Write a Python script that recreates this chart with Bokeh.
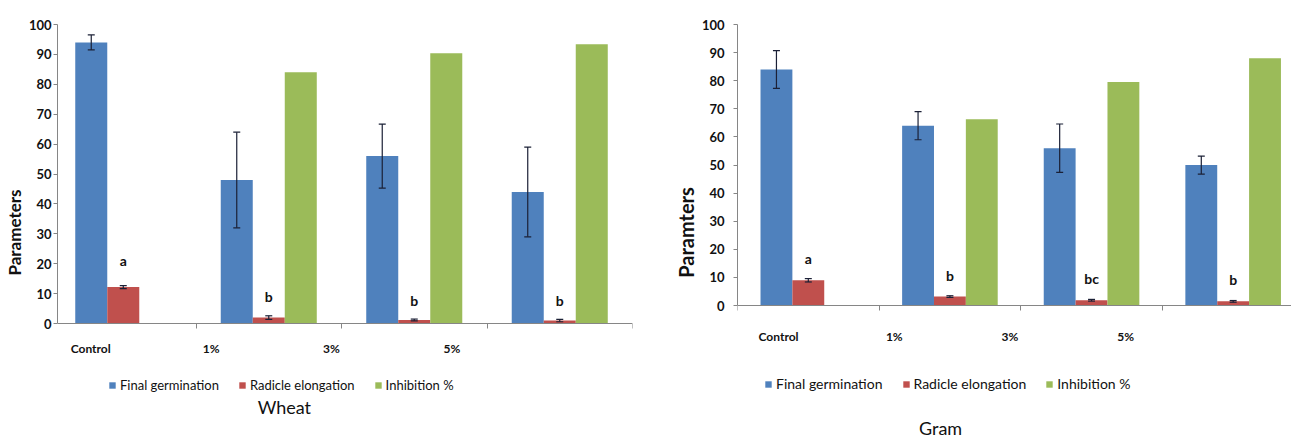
from bokeh.plotting import figure
from bokeh.models import (ColumnDataSource, Whisker, TeeHead, FixedTicker,
                          Range1d, Legend, LegendItem, Label, SingleIntervalTicker)
from bokeh.layouts import row
from bokeh.embed import file_html
from bokeh.resources import INLINE
from bokeh.core.properties import value

NAN = float("nan")

categories = ["Control", "1%", "3%", "5%"]
series_names = ["Final germination", "Radicle elongation", "Inhibition %"]
colors = ["#4F81BD", "#C0504D", "#9BBB59"]

# Wheat
wheat_final = [94.0, 48.0, 56.0, 44.0]
wheat_final_err = [2.5, 16.0, 10.7, 15.0]
wheat_radicle = [12.2, 2.0, 1.2, 1.0]
wheat_radicle_err = [0.5, 0.6, 0.3, 0.4]
wheat_inhibition = [NAN, 84.0, 90.4, 93.4]
wheat_letters = ["a", "b", "b", "b"]
wheat_letter_y = [21.0, 9.0, 7.7, 7.7]

# Gram
gram_final = [84.0, 64.0, 56.0, 50.0]
gram_final_err = [6.7, 5.0, 8.6, 3.2]
gram_radicle = [9.0, 3.2, 1.9, 1.5]
gram_radicle_err = [0.6, 0.3, 0.3, 0.3]
gram_inhibition = [NAN, 66.3, 79.5, 88.0]
gram_letters = ["a", "b", "bc", "b"]
gram_letter_y = [16.7, 10.7, 9.6, 9.2]

FONT = "Lato"
AXIS_GRAY = "#868686"
TXT = "#111111"


def make_chart(title, ylabel, final, final_err, radicle, radicle_err, inhib, letters, letter_y,
               width, bl, br, x_start, x_end, y_start, bar_w, lab_range, lab_y,
               ytick_size, ytick_standoff, ylabel_size, legend_loc, legend_size,
               title_x, title_y):
    p = figure(width=width, height=440, x_range=Range1d(x_start, x_end),
               y_range=Range1d(y_start, 100),
               output_backend="svg", toolbar_location=None, x_axis_location="above",
               min_border_left=bl, min_border_right=br, min_border_top=24,
               min_border_bottom=0)
    p.outline_line_color = None
    p.grid.visible = False

    idx = list(range(len(categories)))
    xs_f = [i + 0.5 - bar_w for i in idx]
    xs_r = [i + 0.5 for i in idx]
    xs_i = [i + 0.5 + bar_w for i in idx]

    r1 = p.vbar(x=xs_f, top=final, bottom=0, width=bar_w, color=colors[0], line_color=None)
    r2 = p.vbar(x=xs_r, top=radicle, bottom=0, width=bar_w, color=colors[1], line_color=None)
    r3 = p.vbar(x=xs_i, top=inhib, bottom=0, width=bar_w, color=colors[2], line_color=None)

    for xs, vals, errs in ((xs_f, final, final_err), (xs_r, radicle, radicle_err)):
        src = ColumnDataSource(dict(x=xs,
                                    upper=[v + e for v, e in zip(vals, errs)],
                                    lower=[v - e for v, e in zip(vals, errs)]))
        w = Whisker(base="x", upper="upper", lower="lower", source=src, level="overlay",
                    line_color="#1b2036", line_width=1.2,
                    upper_head=TeeHead(size=7, line_color="#1b2036", line_width=1.2),
                    lower_head=TeeHead(size=7, line_color="#1b2036", line_width=1.2))
        p.add_layout(w)

    p.text(x=xs_r, y=letter_y, text=letters, text_align="center", text_baseline="middle",
           text_font=value(FONT), text_font_style="bold", text_font_size="14px",
           text_color=TXT)

    # y axis (line only from 0 to 100)
    ya = p.yaxis[0]
    ya.ticker = SingleIntervalTicker(interval=10)
    ya.bounds = (0, 100)
    ya.axis_line_color = AXIS_GRAY
    ya.major_tick_line_color = AXIS_GRAY
    ya.major_tick_out = 4
    ya.major_tick_in = 0
    ya.minor_tick_line_color = None
    ya.major_label_text_font = FONT
    ya.major_label_text_font_style = "bold"
    ya.major_label_text_font_size = ytick_size
    ya.major_label_text_color = TXT
    ya.major_label_standoff = ytick_standoff
    ya.axis_label = ylabel
    ya.axis_label_text_font = FONT
    ya.axis_label_text_font_style = "bold"
    ya.axis_label_text_font_size = ylabel_size
    ya.axis_label_text_color = TXT
    ya.axis_label_standoff = 1

    # x axis drawn at zero, tick marks at category boundaries pointing down
    xa = p.xaxis[0]
    xa.fixed_location = 0
    xa.ticker = FixedTicker(ticks=[0, 1, 2, 3, 4])
    xa.major_label_overrides = {0: "", 1: "", 2: "", 3: "", 4: ""}
    xa.axis_line_color = AXIS_GRAY
    xa.major_tick_line_color = AXIS_GRAY
    xa.major_tick_out = 0
    xa.major_tick_in = 5
    xa.minor_tick_line_color = None
    xa.major_label_text_font_size = "1px"
    xa.major_label_standoff = 0

    # category labels
    p.extra_x_ranges = {"lab": Range1d(*lab_range)}
    p.text(x=[i + 0.5 for i in idx], y=[lab_y] * len(idx), text=categories,
           x_range_name="lab", text_align="center", text_baseline="middle",
           text_font=value(FONT), text_font_style="bold", text_font_size="12px",
           text_color=TXT)

    items = [LegendItem(label=n, renderers=[r]) for n, r in zip(series_names, (r1, r2, r3))]
    leg = Legend(items=items, orientation="horizontal", location=legend_loc,
                 glyph_width=8, glyph_height=8, label_text_font=FONT,
                 label_text_font_size=legend_size, label_text_color=TXT,
                 label_standoff=4, spacing=19, padding=0, margin=0,
                 border_line_color=None, background_fill_alpha=0)
    p.add_layout(leg, "center")

    t = Label(x=title_x, y=title_y, text=title,
              text_align="center", text_baseline="middle", text_font=FONT,
              text_font_size="18px", text_color=TXT)
    p.add_layout(t)
    return p


p1 = make_chart("Wheat", "Parameters", wheat_final, wheat_final_err, wheat_radicle,
                wheat_radicle_err, wheat_inhibition, wheat_letters, wheat_letter_y,
                width=650, bl=53, br=18, x_start=0.048, x_end=4, y_start=-39.1, bar_w=0.22,
                lab_range=(0.224, 5.0), lab_y=-8.4, ytick_size="13px", ytick_standoff=2,
                ylabel_size="17px", legend_loc=(51, 47), legend_size="13px",
                title_x=1.607, title_y=-27.8)
p2 = make_chart("Gram", "Paramters", gram_final, gram_final_err, gram_radicle,
                gram_radicle_err, gram_inhibition, gram_letters, gram_letter_y,
                width=641, bl=87, br=0, x_start=0, x_end=3.912, y_start=-48.0, bar_w=0.225,
                lab_range=(0.145, 4.933), lab_y=-11.0, ytick_size="13px", ytick_standoff=9,
                ylabel_size="20px", legend_loc=(27, 48), legend_size="14px",
                title_x=1.434, title_y=-43.4)

layout = row(p1, p2)
open("out.html", "w").write(file_html(layout, INLINE))
